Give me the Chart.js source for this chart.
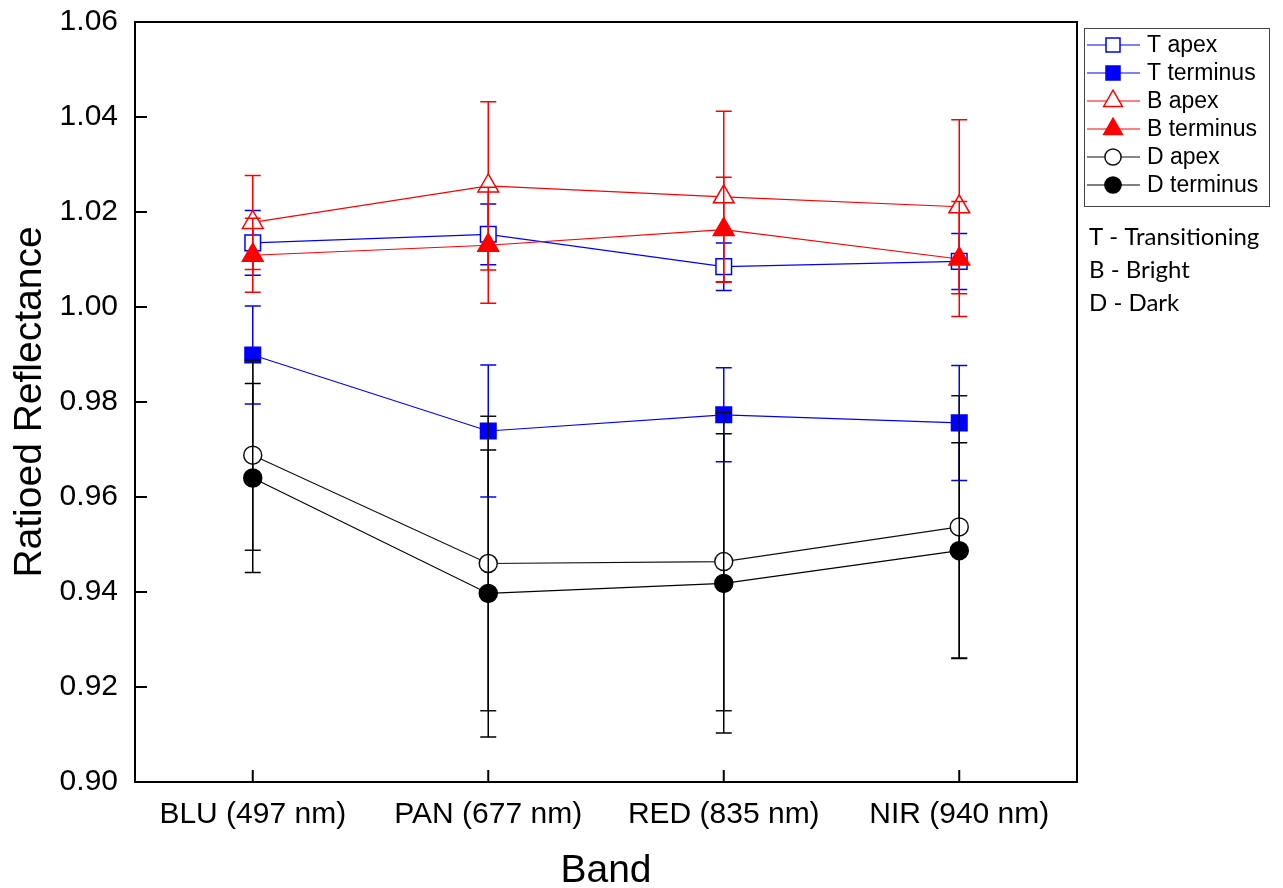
<!DOCTYPE html>
<html>
<head>
<meta charset="utf-8">
<script src="https://cdn.jsdelivr.net/npm/chart.js@4/dist/chart.umd.min.js"></script>
<style>
  html, body { margin: 0; padding: 0; background: #fff; }
</style>
</head>
<body>
<canvas id="bandChart" width="1283" height="888"></canvas>
<script>
// bands on the x axis
const bands = ['BLU (497 nm)', 'PAN (677 nm)', 'RED (835 nm)', 'NIR (940 nm)'];

// mean ratioed reflectance and error (+/-) per band
const tApex = [1.0135, 1.0153, 1.0085, 1.0096];
const tApexErr = [0.0068, 0.0064, 0.0050, 0.0059];
const tTerminus = [0.9899, 0.9739, 0.9773, 0.9756];
const tTerminusErr = [0.0103, 0.0139, 0.0099, 0.0121];
const bApex = [1.0178, 1.0255, 1.0232, 1.0211];
const bApexErr = [0.0099, 0.0177, 0.0180, 0.0183];
const bTerminus = [1.0109, 1.0130, 1.0163, 1.0101];
const bTerminusErr = [0.0078, 0.0122, 0.0110, 0.0121];
const dApex = [0.9688, 0.9460, 0.9464, 0.9537];
const dApexErr = [0.0200, 0.0310, 0.0314, 0.0276];
const dTerminus = [0.9640, 0.9397, 0.9418, 0.9487];
const dTerminusErr = [0.0199, 0.0302, 0.0315, 0.0227];

const notes = ['T - Transitioning', 'B - Bright', 'D - Dark'];

const FONT = '"Liberation Sans", Arial, sans-serif';

function series(label, data, errors, color, style, filled, radius, idx) {
  return {
    label, data, errors,
    borderColor: color,
    borderWidth: 1.2,
    pointStyle: style,
    pointRadius: radius,
    pointBorderWidth: 1.5,
    pointBorderColor: color,
    pointBackgroundColor: filled ? color : '#fff',
    order: -idx
  };
}

// error bars, drawn just before each dataset's own line and markers
const errorBars = {
  id: 'errorBars',
  beforeDatasetDraw(chart, args) {
    const ds = chart.data.datasets[args.index];
    if (!ds.errors) return;
    const y = chart.scales.y;
    const ctx = chart.ctx;
    ctx.save();
    ctx.strokeStyle = ds.borderColor;
    ctx.lineWidth = 1.5;
    args.meta.data.forEach((pt, i) => {
      const top = y.getPixelForValue(ds.data[i] + ds.errors[i]);
      const bot = y.getPixelForValue(ds.data[i] - ds.errors[i]);
      ctx.beginPath();
      ctx.moveTo(pt.x, top); ctx.lineTo(pt.x, bot);
      ctx.moveTo(pt.x - 8, top); ctx.lineTo(pt.x + 8, top);
      ctx.moveTo(pt.x - 8, bot); ctx.lineTo(pt.x + 8, bot);
      ctx.stroke();
    });
    ctx.restore();
  }
};

// closed frame with inward ticks
const frame = {
  id: 'frame',
  afterDraw(chart) {
    const { ctx, chartArea: a, scales } = chart;
    ctx.save();
    ctx.strokeStyle = '#000';
    ctx.lineWidth = 2;
    ctx.strokeRect(a.left, a.top, a.right - a.left, a.bottom - a.top);
    ctx.beginPath();
    scales.y.ticks.forEach((t, i) => {
      const py = scales.y.getPixelForTick(i);
      ctx.moveTo(a.left, py); ctx.lineTo(a.left + 12, py);
    });
    scales.x.ticks.forEach((t, i) => {
      const px = scales.x.getPixelForTick(i);
      ctx.moveTo(px, a.bottom); ctx.lineTo(px, a.bottom - 12);
    });
    ctx.stroke();
    ctx.restore();
  }
};

const legendBox = {
  id: 'legendBox',
  afterDraw(chart) {
    const ctx = chart.ctx;
    ctx.save();
    ctx.strokeStyle = '#444';
    ctx.lineWidth = 1;
    ctx.strokeRect(1084.5, 28.5, 185, 178);
    ctx.font = '23px ' + FONT;
    ctx.textBaseline = 'middle';
    chart.data.datasets.forEach((ds, i) => {
      const yy = 45 + i * 28;
      ctx.strokeStyle = ds.borderColor;
      ctx.lineWidth = 1.2;
      ctx.beginPath();
      ctx.moveTo(1087, yy); ctx.lineTo(1140, yy);
      ctx.stroke();
      ctx.fillStyle = ds.pointBackgroundColor;
      ctx.strokeStyle = ds.pointBorderColor;
      ctx.lineWidth = 1.5;
      Chart.helpers.drawPoint(ctx, {
        pointStyle: ds.pointStyle, radius: ds.pointRadius * 0.9,
        borderWidth: 1.5, rotation: 0
      }, 1113, yy);
      ctx.fillStyle = '#000';
      ctx.fillText(ds.label, 1147, yy + 1);
    });
    ctx.font = '24px Lato, "Open Sans", sans-serif';
    notes.forEach((n, i) => ctx.fillText(n, 1089, 237 + i * 33));
    ctx.restore();
  }
};

new Chart(document.getElementById('bandChart'), {
  type: 'line',
  data: {
    labels: bands,
    datasets: [
      series('T apex', tApex, tApexErr, '#0000ff', 'rect', false, 11, 0),
      series('T terminus', tTerminus, tTerminusErr, '#0000ff', 'rect', true, 11, 1),
      series('B apex', bApex, bApexErr, '#ff0000', 'triangle', false, 12, 2),
      series('B terminus', bTerminus, bTerminusErr, '#ff0000', 'triangle', true, 12, 3),
      series('D apex', dApex, dApexErr, '#111111', 'circle', false, 9, 4),
      series('D terminus', dTerminus, dTerminusErr, '#000000', 'circle', true, 9, 5)
    ]
  },
  options: {
    responsive: false,
    animation: false,
    events: [],
    layout: { padding: { top: 22, right: 206, left: 0, bottom: 0 } },
    plugins: {
      legend: { display: false },
      tooltip: { enabled: false }
    },
    scales: {
      x: {
        offset: true,
        grid: { display: false },
        border: { display: false },
        ticks: { color: '#000', padding: 7, font: { family: FONT, size: 30 } },
        title: {
          display: true, text: 'Band', color: '#000',
          font: { family: FONT, size: 39, lineHeight: 1 },
          padding: { top: 0, bottom: -3 }
        },
        afterFit(scale) { scale.height = 106; }
      },
      y: {
        min: 0.9,
        max: 1.06,
        grid: { display: false },
        border: { display: false },
        ticks: {
          stepSize: 0.02,
          color: '#000',
          padding: 9,
          font: { family: FONT, size: 30 },
          callback: v => v.toFixed(2)
        },
        title: {
          display: true, text: 'Ratioed Reflectance', color: '#000',
          font: { family: FONT, size: 39, lineHeight: 1 },
          padding: { top: 11, bottom: 0 }
        },
        afterFit(scale) {
          scale.width = 135;
          scale.paddingTop = 0;
          scale.paddingBottom = 0;
        }
      }
    }
  },
  plugins: [errorBars, frame, legendBox]
});
</script>
</body>
</html>
